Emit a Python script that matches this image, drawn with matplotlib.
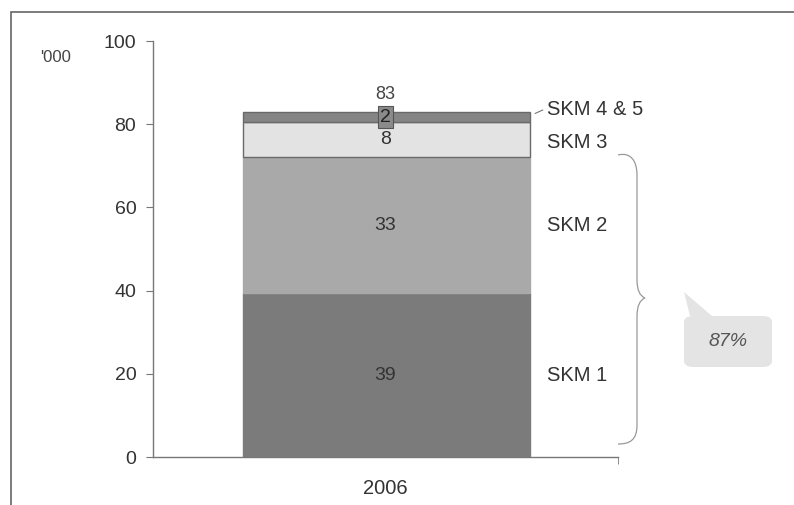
import matplotlib
matplotlib.use("Agg")
import matplotlib.pyplot as plt
from matplotlib.patches import Rectangle, FancyBboxPatch, Polygon, PathPatch
from matplotlib.path import Path

categories = ["2006"]
segment_names = ["SKM 1", "SKM 2", "SKM 3", "SKM 4 & 5"]
segment_values = [39.4, 32.7, 8.4, 2.4]
segment_colors = ["#7b7b7b", "#a9a9a9", "#e3e3e3", "#858585"]
total_label = "83"
share_label = "87%"
y_ticks = [0, 20, 40, 60, 80, 100]
unit_label = "'000"

plt.rcParams['font.family'] = ['Liberation Sans', 'DejaVu Sans']
fig = plt.figure(figsize=(7.94, 5.05), dpi=100)
W, H = 794, 505
ax = fig.add_axes([153 / W, 1 - 457 / H, (618 - 153) / W, (457 - 41) / H])

# outer frame
fig.patches.append(Rectangle((11 / W, -0.1), 1.2, 1 - 12 / H + 0.1, transform=fig.transFigure,
                             fill=False, edgecolor="#666666", lw=1.2))

bw = 0.617
bottom = 0
for name, v, c in zip(segment_names, segment_values, segment_colors):
    edge = "#6a6a6a" if name in ("SKM 3", "SKM 4 & 5") else c
    ax.bar(0.002, v, width=bw, bottom=bottom, color=c, edgecolor=edge, lw=1.0, zorder=2)
    mid = bottom + v / 2
    lbl = f"{round(v):d}"
    if name == "SKM 4 & 5":
        ax.text(0, mid, lbl, ha="center", va="center", fontsize=14, color="#222222", zorder=4,
                bbox=dict(boxstyle="square,pad=0.12", fc="#8a8a8a", ec="#555555", lw=0.8))
    else:
        ax.text(0, mid, lbl, ha="center", va="center", fontsize=14, color="#333333", zorder=4)
    label_y = {"SKM 1": mid, "SKM 2": mid, "SKM 3": 75.5, "SKM 4 & 5": 83.6}[name]
    ax.text(0.347, label_y, name, ha="left", va="center", fontsize=14.5, color="#333333")
    bottom += v

ax.text(0, bottom + 2.2, total_label, ha="center", va="bottom", fontsize=13, color="#444444", zorder=3)
# leader for SKM 4 & 5
ax.plot([0.322, 0.338], [82.6, 83.4], color="#777777", lw=0.8, clip_on=False)

ax.set_xlim(-0.5, 0.5)
ax.set_ylim(0, 100)
ax.set_yticks(y_ticks)
ax.set_xticks([0])
ax.set_xticklabels(categories)
ax.set_xticks([0.5], minor=True)
ax.tick_params(axis="x", which="major", length=0, pad=16, labelsize=14.5, labelcolor="#333333")
ax.tick_params(axis="x", which="minor", length=5, color="#777777", direction="out")
ax.tick_params(axis="y", length=5, color="#777777", labelsize=14, labelcolor="#333333", pad=7)
for s in ["top", "right"]:
    ax.spines[s].set_visible(False)
for s in ["left", "bottom"]:
    ax.spines[s].set_color("#777777")
    ax.spines[s].set_linewidth(1.0)

fig.text(40 / W, 1 - 57 / H, unit_label, ha="left", va="center", fontsize=12, color="#444444")

# brace (in pixel-based figure coords)
def P(x, y):
    return (x / W, 1 - y / H)

verts = [P(618, 155), P(630, 152), P(637, 160), P(637, 175),
         P(637, 280), P(637, 295), P(645, 298),
         P(637, 301), P(637, 316), P(637, 331),
         P(637, 425), P(637, 440), P(630, 444), P(618, 444)]
codes = [Path.MOVETO, Path.CURVE4, Path.CURVE4, Path.CURVE4,
         Path.LINETO, Path.CURVE3, Path.CURVE3,
         Path.CURVE3, Path.CURVE3, Path.LINETO,
         Path.LINETO, Path.CURVE4, Path.CURVE4, Path.CURVE4]
fig.patches.append(PathPatch(Path(verts, codes), transform=fig.transFigure, fill=False,
                             edgecolor="#999999", lw=0.9))

# callout box
box = FancyBboxPatch(P(684, 367), 88 / W, 51 / H, boxstyle="round,pad=0,rounding_size=0.012",
                     transform=fig.transFigure, fc="#e4e4e4", ec="none")
fig.patches.append(box)
fig.patches.append(Polygon([P(684, 292), P(690, 316), P(712, 316)], closed=True,
                           transform=fig.transFigure, fc="#e4e4e4", ec="none"))
fig.text(728 / W, 1 - 341 / H, share_label, ha="center", va="center", fontsize=14,
         style="italic", color="#555555")

fig.savefig("out.png", dpi=100)
